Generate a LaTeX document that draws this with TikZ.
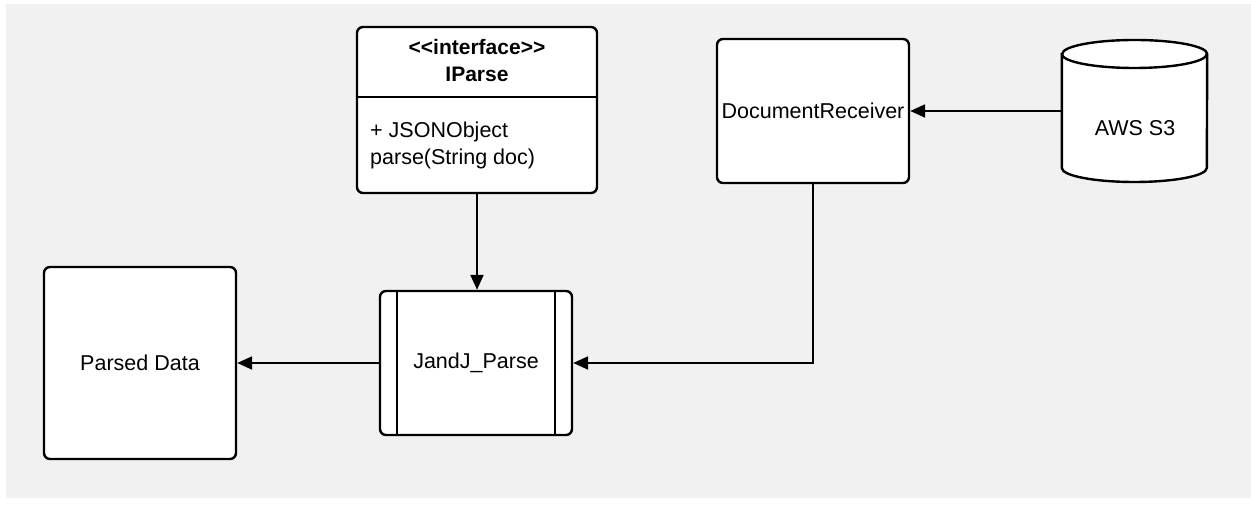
\documentclass[tikz,border=0pt]{standalone}
\usepackage{fontspec}
\setmainfont{Liberation Sans}[Ligatures=NoCommon]
\usetikzlibrary{arrows.meta,calc}
\definecolor{canvas}{HTML}{F1F1F1}
\tikzset{
  box/.style={draw, line width=2.4pt, fill=white, rounded corners=6pt, inner sep=0pt,
    font=\fontsize{21.5}{26}\selectfont},
  link/.style={line width=2.2pt, -{Triangle[length=15pt,width=13pt]}},
  lbl/.style={inner sep=0pt, align=left, font=\fontsize{21.5}{27}\selectfont}
}
\begin{document}
\begin{tikzpicture}[x=1pt,y=1pt]
  \useasboundingbox (0,0) rectangle (1251,508);
  \fill[canvas] (6,10) rectangle (1251,504);

  % interface class box
  \node[box, minimum width=240pt, minimum height=166pt] (ip) at (477,398) {};
  \draw[line width=2.4pt] (ip.west |- 0,411) coordinate (divl) -- (ip.east |- 0,411) coordinate (divr);
  \node[lbl, align=center, font=\bfseries\fontsize{21}{27}\selectfont] (iphead) at (477,447) {{<}{<}interface{>}{>}\\IParse};
  \node[lbl, anchor=west] (ipbody) at (370,363) {+ JSONObject\\parse(String doc)};

  % receiver
  \node[box, minimum width=192pt, minimum height=144pt] (dr) at (813,397) {DocumentReceiver};

  % storage cylinder
  \node[inner sep=0pt, minimum width=145pt, minimum height=142pt] (s3) at (1134.5,397) {};
  \draw[line width=2.4pt, fill=white]
    (s3.west |- 0,454) -- (s3.west |- 0,340) arc[start angle=180, end angle=360, x radius=72.5pt, y radius=14pt]
    -- (s3.east |- 0,454) arc[start angle=0, end angle=180, x radius=72.5pt, y radius=14pt] -- cycle;
  \draw[line width=2.4pt] (s3.west |- 0,454) arc[start angle=180, end angle=360, x radius=72.5pt, y radius=14pt];
  \node[lbl] (s3text) at (1135,380) {AWS S3};

  % parser process
  \node[box, minimum width=192pt, minimum height=144pt] (jj) at (476,145) {JandJ\_Parse};
  \draw[line width=2.4pt] ($(jj.north west)+(18,0)$) -- ($(jj.south west)+(18,0)$);
  \draw[line width=2.4pt] ($(jj.north east)+(-18,0)$) -- ($(jj.south east)+(-18,0)$);

  % output
  \node[box, minimum width=192pt, minimum height=192pt] (pd) at (140,145) {Parsed Data};

  % connectors
  \draw[link] (s3.west) -- (dr.east);
  \draw[link] (ip.south) -- (ip.south |- jj.north);
  \draw[link] (dr.south) |- (jj.east);
  \draw[link] (jj.west) -- (pd.east);
\end{tikzpicture}
\end{document}
